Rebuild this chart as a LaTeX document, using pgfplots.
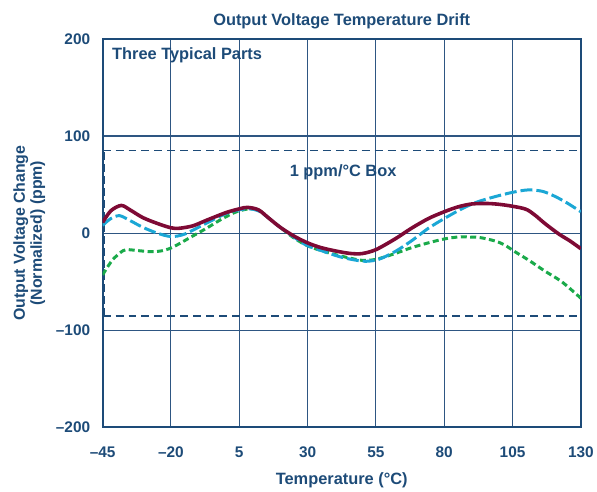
\documentclass[border=0pt]{standalone}
\usepackage{pgfplots}
\pgfplotsset{compat=1.18}
\usepackage{fontspec}
\setmainfont{Liberation Sans}
\definecolor{adblue}{HTML}{1D4B78}
\definecolor{gridblue}{HTML}{2E5682}
\definecolor{maroon}{HTML}{7E0A35}
\definecolor{cyanl}{HTML}{1BA7D5}
\definecolor{greenl}{HTML}{1AAA4A}
\begin{document}
\begin{tikzpicture}[font=\bfseries\fontsize{16.5}{17}\selectfont]
\begin{axis}[
  scale only axis,
  width=480bp, height=390bp,
  xmin=-45, xmax=130, ymin=-200, ymax=200,
  xtick={-45,-20,5,30,55,80,105,130},
  xticklabels={--45,--20,5,30,55,80,105,130},
  ytick={-200,-100,0,100,200},
  yticklabels={--200,--100,0,100,200},
  major tick length=0pt,
  grid=major,
  major grid style={gridblue, line width=1.1bp},
  axis line style={adblue, line width=2bp},
  tick label style={adblue, font=\bfseries\fontsize{15.5}{17}\selectfont},
  xticklabel style={yshift=-16bp},
  yticklabel style={xshift=-9bp},
  label style={adblue},
  xlabel={Temperature (°C)},
  xlabel style={yshift=-8bp, font=\bfseries\fontsize{16.5}{17}\selectfont},
  ylabel={Output Voltage Change\\(Normalized) (ppm)},
  ylabel style={align=center, font=\bfseries\fontsize{16}{17}\selectfont, yshift=4bp},
  title={Output Voltage Temperature Drift},
  title style={adblue, yshift=0bp, font=\bfseries\fontsize{16.5}{17}\selectfont},
  clip=true,
]
% 1 ppm/C box
\addplot[adblue, line width=1.6bp, dash pattern=on 8bp off 5bp, forget plot] coordinates {(-45,85) (130,85)};
\addplot[adblue, line width=1.6bp, dash pattern=on 8bp off 5bp, forget plot] coordinates {(-45,-85) (130,-85)};
\addplot[adblue, line width=3bp, dash pattern=on 8bp off 4bp, forget plot] coordinates {(-44.5,-85) (-44.5,85)};
% green
\addplot[greenl, line width=3bp, dash pattern=on 6bp off 3.5bp, smooth, tension=0.5] coordinates {
(-45,-43) (-43,-34) (-41.2,-27) (-38.5,-20) (-36.4,-17) (-32,-18) (-27.9,-19) (-24,-18.5) (-20.6,-16) (-17,-11) (-13.3,-5) (-7,5) (-1.1,15) (4,22) (8.6,25) (12,24) (16,15) (20,6) (25,-5) (30,-13) (35,-18) (41.4,-23) (46,-26) (50,-28) (55,-27) (62,-21) (68,-15) (74.2,-10) (80,-6) (85,-4) (88.8,-4) (93,-4.5) (98.5,-8) (102,-12) (105.8,-19) (111,-28) (116.8,-39) (123,-50) (130,-67)};
% cyan
\addplot[cyanl, line width=3bp, dash pattern=on 12bp off 4bp, smooth, tension=0.5] coordinates {
(-45,8) (-42,15) (-38.8,18) (-35,13) (-30.3,6) (-25,0) (-20,-3.5) (-15,-1) (-7.2,10) (0,20) (5,24) (8.6,25) (12,23) (16,15) (20,6) (25,-4) (29.3,-12) (35,-18) (41.4,-24) (46,-27) (51.1,-29) (56,-27) (62,-19) (68,-8) (74.2,5) (80,15) (86.4,25) (92,32) (98.5,37.5) (105,42) (110.7,44.5) (116,43) (120.4,38) (125,31) (130,22)};
% maroon
\addplot[maroon, line width=3.6bp, smooth, tension=0.5] coordinates {
(-45,11) (-42,23) (-38.2,28.5) (-35,24) (-30.3,16) (-25,10) (-20,5.5) (-17,5) (-12,7.5) (-7.2,13) (0,21) (5,25) (8,26.5) (12,24) (16,15) (20,6) (25,-3) (30,-10) (35,-15) (41.4,-19) (46,-21) (50,-21) (55,-17) (62,-6) (68,5) (74.2,15) (80,22) (85,27) (90,30) (96,30.5) (102,29) (109.5,25) (113,19) (116.8,10) (122,-1) (126,-8) (130,-16)};
\node[adblue, anchor=west] at (axis cs:-42.8,183) {Three Typical Parts};
\node[adblue] at (axis cs:43,63) {1 ppm/°C Box};
\end{axis}
\path[use as bounding box] (-103bp,-58bp) rectangle (494bp,429bp);
\end{tikzpicture}
\end{document}
